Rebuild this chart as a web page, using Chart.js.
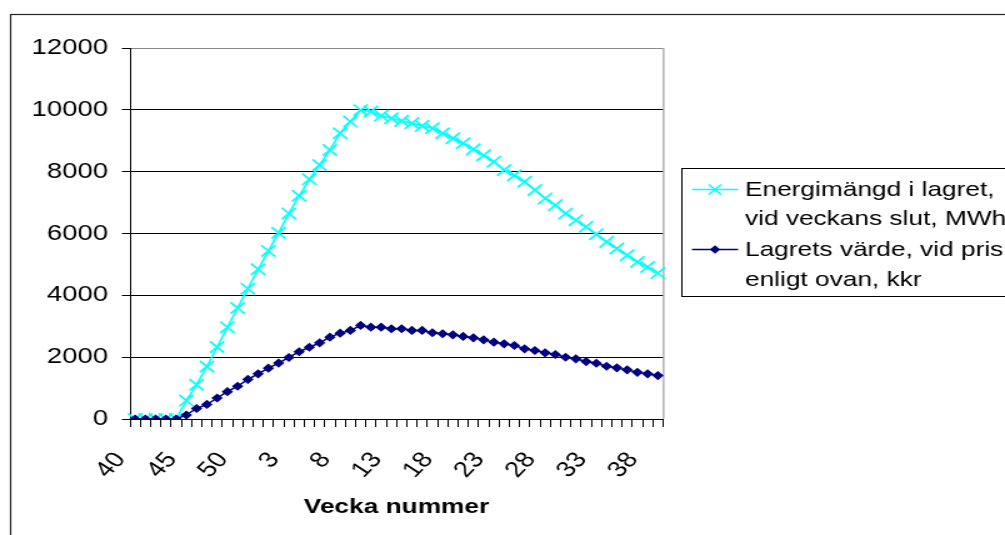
<!DOCTYPE html>
<html>
<head>
<meta charset="utf-8">
<script src="https://cdn.jsdelivr.net/npm/chart.js@4.4.1/dist/chart.umd.min.js"></script>
<style>
  html, body { margin: 0; padding: 0; background: #fff; overflow: hidden; }
  #wrap { width: 804px; height: 535px; transform: scaleX(1.25); transform-origin: 0 0; }
  #c { display: block; }
</style>
</head>
<body>
<div id="wrap"><canvas id="c" width="804" height="535"></canvas></div>
<script>
// Week numbers, week 40 through year end and on to week 39
const weeks = [40, 41, 42, 43, 44, 45, 46, 47, 48, 49, 50, 51, 52,
  1, 2, 3, 4, 5, 6, 7, 8, 9, 10, 11, 12, 13, 14, 15, 16, 17, 18, 19, 20,
  21, 22, 23, 24, 25, 26, 27, 28, 29, 30, 31, 32, 33, 34, 35, 36, 37, 38, 39];

// Stored energy at the end of each week, MWh
const energyMWh = [0, 0, 0, 0, 0, 595, 1110, 1700, 2330, 2970,
  3590, 4216, 4843, 5437, 6020, 6650, 7220, 7752, 8216, 8703,
  9244, 9620, 9990, 9945, 9805, 9730, 9643, 9568, 9481, 9406,
  9244, 9082, 8920, 8725, 8530, 8323, 8054, 7880, 7675, 7405,
  7135, 6918, 6650, 6432, 6215, 5978, 5729, 5514, 5297, 5080,
  4917, 4720];

// Value of the stored energy at the given prices, kkr
const valueKkr = [0, 0, 0, 0, 0, 130, 340, 470, 680, 885,
  1060, 1280, 1460, 1645, 1810, 1990, 2175, 2320, 2465, 2647,
  2777, 2864, 3026, 2971, 2971, 2919, 2919, 2864, 2864, 2789,
  2757, 2724, 2670, 2627, 2562, 2485, 2433, 2378, 2270, 2215,
  2141, 2086, 1998, 1946, 1858, 1803, 1706, 1654, 1589, 1511,
  1460, 1404];

const yMin = 0, yMax = 12000, yStep = 2000;
const labelEvery = 5;
const energyLabel = ['Energimängd i lagret,', 'vid veckans slut, MWh'];
const valueLabel = ['Lagrets värde, vid pris', 'enligt ovan, kkr'];
const xTitle = 'Vecka nummer';

const FONT = "'Liberation Sans', Arial, Helvetica, sans-serif";
const CYAN = '#00ffff';
const NAVY = '#000080';

// Outer frame, plot border and the boxed legend on the right
const framePlugin = {
  id: 'frame',
  beforeDraw(chart) {
    const c = chart.ctx;
    c.save();
    c.fillStyle = '#fff';
    c.fillRect(0, 0, chart.width, chart.height);
    c.strokeStyle = '#222';
    c.lineWidth = 1.2;
    c.strokeRect(8.5, 14.5, chart.width + 40, chart.height + 40);
    c.restore();
  },
  beforeDatasetsDraw(chart) {
    const c = chart.ctx, a = chart.chartArea;
    c.save();
    c.strokeStyle = '#8a8a8a';
    c.lineWidth = 1;
    c.beginPath();
    c.moveTo(a.right + 0.5, a.top);
    c.lineTo(a.right + 0.5, a.bottom);
    c.stroke();
    c.restore();
  },
  afterDraw(chart) {
    const c = chart.ctx;
    const box = { left: 545.5, top: 168.5, bottom: 296.5 };
    c.save();
    c.fillStyle = '#fff';
    c.fillRect(box.left, box.top, chart.width, box.bottom - box.top);
    c.strokeStyle = '#000';
    c.lineWidth = 1;
    c.strokeRect(box.left, box.top, chart.width, box.bottom - box.top);

    const items = [
      { color: CYAN, kind: 'cross', y: 189.5, lines: energyLabel, base: [196, 225] },
      { color: NAVY, kind: 'diamond', y: 249.5, lines: valueLabel, base: [256, 286] }
    ];
    const x0 = 553.5, x1 = 590.5, mx = 572;
    items.forEach(it => {
      c.strokeStyle = it.color;
      c.lineWidth = 1.5;
      c.beginPath();
      c.moveTo(x0, it.y);
      c.lineTo(x1, it.y);
      c.stroke();
      if (it.kind === 'cross') {
        const d = 5;
        c.beginPath();
        c.moveTo(mx - d, it.y - d); c.lineTo(mx + d, it.y + d);
        c.moveTo(mx - d, it.y + d); c.lineTo(mx + d, it.y - d);
        c.stroke();
      } else {
        const r = 4.2;
        c.fillStyle = it.color;
        c.beginPath();
        c.moveTo(mx, it.y - r); c.lineTo(mx + r, it.y);
        c.lineTo(mx, it.y + r); c.lineTo(mx - r, it.y);
        c.closePath();
        c.fill();
      }
      c.fillStyle = '#000';
      c.font = '21px ' + FONT;
      c.textAlign = 'left';
      c.textBaseline = 'alphabetic';
      it.lines.forEach((t, i) => c.fillText(t, 596, it.base[i]));
    });
    c.restore();
  }
};

new Chart(document.getElementById('c'), {
  type: 'line',
  data: {
    labels: weeks,
    datasets: [
      {
        label: energyLabel.join(' '),
        data: energyMWh,
        borderColor: CYAN,
        backgroundColor: CYAN,
        borderWidth: 1.6,
        pointStyle: 'crossRot',
        pointRadius: 8,
        pointBorderWidth: 1.7,
        pointBorderColor: CYAN,
        tension: 0,
        order: 1
      },
      {
        label: valueLabel.join(' '),
        data: valueKkr,
        borderColor: NAVY,
        backgroundColor: NAVY,
        borderWidth: 1.5,
        pointStyle: 'rectRot',
        pointRadius: 4.6,
        pointBorderWidth: 0,
        pointBackgroundColor: NAVY,
        tension: 0,
        order: 0
      }
    ]
  },
  options: {
    responsive: false,
    devicePixelRatio: 1,
    animation: false,
    layout: { padding: { left: 0, top: 48, right: 273.6, bottom: 0 } },
    plugins: {
      legend: { display: false },
      tooltip: { enabled: false }
    },
    scales: {
      x: {
        type: 'category',
        offset: true,
        grid: {
          offset: true,
          drawOnChartArea: false,
          drawTicks: true,
          tickLength: 8,
          color: '#000',
          lineWidth: 1
        },
        border: { display: true, color: '#000', width: 1 },
        ticks: {
          autoSkip: false,
          maxRotation: 51,
          minRotation: 51,
          padding: 6,
          color: '#000',
          font: { family: FONT, size: 22 },
          // trailing spaces pull each slanted label back from its tick
          callback: (v, i) => (i % labelEvery === 0 ? String(weeks[i]) + '   ' : '')
        },
        title: {
          display: true,
          text: xTitle,
          color: '#000',
          font: { family: FONT, size: 21, weight: 'bold' },
          padding: { top: 4, bottom: 15 }
        },
        afterFit(scale) { scale.height = 116; }
      },
      y: {
        min: yMin,
        max: yMax,
        ticks: {
          stepSize: yStep,
          padding: 11,
          color: '#000',
          font: { family: FONT, size: 22 },
          callback: v => String(v)
        },
        grid: {
          color: ctx => (ctx.tick && ctx.tick.value === yMax ? '#8a8a8a' : '#000'),
          lineWidth: 1,
          tickLength: 6.5,
          tickColor: '#000'
        },
        border: { display: true, color: '#000', width: 1 },
        afterFit(scale) { scale.width = 104; }
      }
    }
  },
  plugins: [framePlugin]
});
</script>
</body>
</html>
